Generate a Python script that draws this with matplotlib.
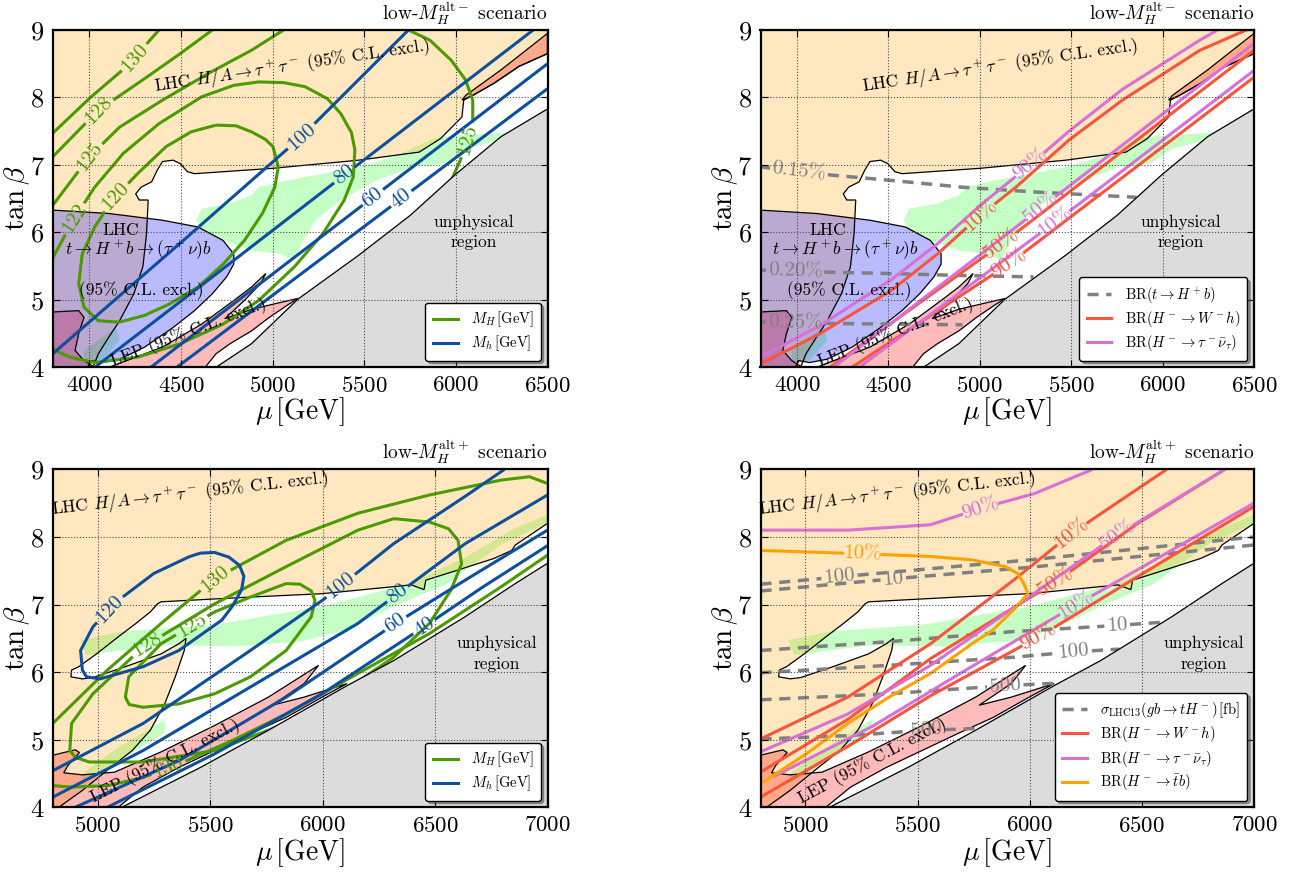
import numpy as np
import matplotlib
matplotlib.use("Agg")
import matplotlib.pyplot as plt
from matplotlib.lines import Line2D

plt.rcParams.update({
    "font.family": "serif",
    "font.serif": ["cmr10"],
    "mathtext.fontset": "cm",
    "axes.unicode_minus": False,
    "axes.formatter.use_mathtext": True,
})

# ------------------------------------------------------------------ data
TOP_XTICKS = [4000, 4500, 5000, 5500, 6000, 6500]
BOT_XTICKS = [5000, 5500, 6000, 6500, 7000]
TB_TICKS = [4, 5, 6, 7, 8, 9]
TOP_XLIM = (3800, 6500)
BOT_XLIM = (4800, 7000)

# ---- low-MH alt- scenario (top row) : excluded regions
m_lhc_mu = [3800, 6500, 6500, 6344, 6208, 6092, 6043, 6033, 5916, 5800, 5469, 5002, 4574, 4535,
            4496, 4457, 4399, 4370, 4340, 4282, 4253, 4272, 4321, 4312, 4292, 4243, 4165, 4107,
            4049, 4020, 3800]
m_lhc_tb = [9.0, 9.0, 8.65, 8.46, 8.21, 8.03, 7.96, 7.71, 7.39, 7.19, 7.07, 6.95, 6.87, 6.90,
            7.02, 7.07, 7.05, 6.92, 6.75, 6.67, 6.57, 6.48, 6.48, 5.98, 5.49, 5.09, 4.69, 4.45,
            4.20, 4.0, 4.0]
m_tth_mu = [3800, 4107, 4399, 4593, 4730, 4788, 4788, 4749, 4671, 4574, 4457, 4302, 4165, 4068,
            4010, 3990, 3800]
m_tth_tb = [6.33, 6.28, 6.18, 6.08, 5.88, 5.68, 5.53, 5.34, 5.09, 4.84, 4.59, 4.30, 4.12, 4.07,
            4.10, 4.0, 4.0]
m_lep1_mu = [3800, 3942, 3971, 3942, 3922, 3971, 4029, 3800]
m_lep1_tb = [4.82, 4.84, 4.74, 4.50, 4.25, 4.10, 4.0, 4.0]
m_lep2_mu = [4107, 4399, 4613, 4788, 4885, 4963, 4934, 4846, 4739, 4885, 5041, 5138, 5080, 4982,
             4885, 4768, 4691, 4632]
m_lep2_tb = [4.0, 4.30, 4.64, 4.99, 5.19, 5.39, 5.24, 4.99, 4.72, 4.86, 4.96, 5.02, 4.92, 4.74,
             4.54, 4.35, 4.20, 4.0]
m_lep3_mu = [6033, 6053, 6247, 6500, 6500, 6344, 6208, 6092]
m_lep3_tb = [7.96, 8.03, 8.41, 8.95, 8.65, 8.46, 8.21, 8.03]
m_unph_mu = [4691, 4885, 5138, 5469, 5750, 5994, 6247, 6500, 6500]
m_unph_tb = [4.0, 4.35, 5.01, 5.66, 6.25, 6.85, 7.42, 7.83, 4.0]
m_fit1_mu = [4584, 4613, 4768, 4885, 4924, 5080, 5469, 5663, 5858, 5916, 6286, 6247, 6053, 5936,
             5761, 5566, 5372, 5235, 5158, 5119, 5041, 4885, 4730, 4613]
m_fit1_tb = [6.18, 6.35, 6.43, 6.55, 6.67, 6.77, 6.97, 7.12, 7.37, 7.42, 7.48, 7.37, 7.24, 7.02,
             6.97, 6.77, 6.48, 6.18, 5.83, 5.58, 5.68, 5.73, 5.88, 6.03]
m_fit2_mu = [3971, 4146, 4165, 4068, 3971]
m_fit2_tb = [4.25, 4.59, 4.40, 4.10, 4.05]

# ---- alt- : MH contours (GeV)
m_MH130_mu = [3800, 4010, 4204, 4380]
m_MH130_tb = [7.47, 8.01, 8.46, 9.0]
m_MH128_mu = [3800, 4049, 4302, 4496, 4671]
m_MH128_tb = [7.12, 7.81, 8.28, 8.65, 9.0]
m_MH125a_mu = [3800, 4000, 4165, 4399, 4652, 4885, 5060]
m_MH125a_tb = [6.40, 7.12, 7.56, 7.96, 8.36, 8.70, 9.0]
m_MH125b_mu = [5741, 5858, 5975, 6053, 6092, 6092, 6063, 6024, 5975]
m_MH125b_tb = [9.0, 8.85, 8.55, 8.26, 7.96, 7.66, 7.37, 7.07, 6.77]
m_MH122_mu = [3800, 3912, 4029, 4185, 4379, 4613, 4788, 4924, 5060, 5177, 5300, 5372, 5430, 5449,
              5440, 5391, 5274, 5119, 4924, 4730, 4496, 4263, 4029, 3893, 3800]
m_MH122_tb = [5.62, 6.18, 6.67, 7.17, 7.61, 8.01, 8.18, 8.23, 8.22, 8.16, 7.98, 7.76, 7.48, 7.22,
              6.82, 6.48, 5.98, 5.49, 4.99, 4.64, 4.35, 4.15, 4.07, 4.15, 4.27]
m_MH120_mu = [4691, 4800, 4885, 4960, 5002, 5031, 5012, 4944, 4846, 4730, 4593, 4438, 4302, 4165,
              4049, 3971, 3942, 3961, 4029, 4126, 4263, 4418, 4555, 4691]
m_MH120_tb = [7.59, 7.58, 7.49, 7.38, 7.27, 6.97, 6.67, 6.28, 5.88, 5.53, 5.19, 4.94, 4.77, 4.67,
              4.69, 4.89, 5.24, 5.68, 6.08, 6.48, 6.87, 7.27, 7.49, 7.59]
# ---- alt- : Mh contours (GeV)
m_Mh100_mu = [3800, 4500, 5158, 5741]
m_Mh100_tb = [4.20, 5.85, 7.42, 9.0]
m_Mh80_mu = [4030, 4700, 5391, 6422]
m_Mh80_tb = [4.0, 5.40, 6.85, 9.0]
m_Mh60_mu = [4335, 5547, 6500]
m_Mh60_tb = [4.0, 6.52, 8.50]
m_Mh40_mu = [4477, 5702, 6500]
m_Mh40_tb = [4.0, 6.50, 8.13]
# ---- alt- : branching ratios
m_BRt015_mu = [3800, 4185, 4516, 4905, 5294, 5858]
m_BRt015_tb = [6.97, 6.85, 6.77, 6.67, 6.60, 6.52]
m_BRt020_mu = [3800, 4165, 4516, 4905, 5294]
m_BRt020_tb = [5.44, 5.41, 5.39, 5.36, 5.34]
m_BRt025_mu = [3800, 4165, 4905]
m_BRt025_tb = [4.67, 4.65, 4.63]
m_Wh10_mu = [3800, 4126, 4516, 4768, 5002, 5197, 5488, 5780, 6204, 6500]
m_Wh10_tb = [4.05, 4.50, 5.14, 5.68, 6.25, 6.67, 7.37, 7.96, 8.70, 9.05]
m_Wh50_mu = [4180, 5119, 6500]
m_Wh50_tb = [4.0, 5.83, 8.70]
m_Wh90_mu = [4300, 5158, 6500]
m_Wh90_tb = [4.0, 5.53, 8.30]
m_tau90_mu = [3800, 4126, 4516, 4768, 5002, 5274, 5488, 5780, 6204, 6300]
m_tau90_tb = [4.15, 4.62, 5.30, 5.83, 6.40, 7.00, 7.50, 8.12, 8.85, 9.0]
m_tau50_mu = [4200, 5333, 6500]
m_tau50_tb = [4.0, 6.36, 8.80]
m_tau10_mu = [4340, 5411, 6500]
m_tau10_tb = [4.0, 6.15, 8.40]

# ---- low-MH alt+ scenario (bottom row) : excluded regions
p_lhc_mu = [4800, 7000, 7000, 6857, 6841, 6761, 6602, 6459, 6451, 6395, 5998, 5679, 5282, 5266,
            5234, 5170, 5091, 4995, 4916, 4884, 4881, 4932, 4980, 5123, 5282, 5361, 5393, 5385,
            5345, 5298, 5234, 5154, 5043, 4932, 4827, 4800]
p_lhc_tb = [9.0, 9.0, 8.20, 7.88, 7.80, 7.68, 7.51, 7.36, 7.22, 7.29, 7.16, 7.11, 7.04, 7.01,
            6.89, 6.72, 6.52, 6.27, 6.08, 6.03, 5.93, 5.90, 5.92, 6.08, 6.27, 6.42, 6.50, 6.32,
            5.93, 5.53, 5.14, 4.84, 4.55, 4.25, 4.0, 4.0]
p_lep_mu = [4800, 4800, 4900, 4919, 4868, 4849, 4932, 5075, 5282, 5520, 5759, 5982, 5918, 5775,
            5918, 6109, 5998, 5838, 5679, 5520, 5361, 5202, 5091]
p_lep_tb = [4.0, 4.77, 4.85, 4.81, 4.62, 4.51, 4.48, 4.52, 4.82, 5.21, 5.63, 6.10, 5.83, 5.51,
            5.63, 5.83, 5.63, 5.33, 5.09, 4.84, 4.59, 4.30, 4.0]
p_unph_mu = [5107, 5457, 5759, 6109, 6316, 6634, 6857, 7000, 7000]
p_unph_tb = [4.0, 4.59, 5.14, 5.80, 6.17, 6.82, 7.31, 7.61, 4.0]
p_fit1_mu = [4924, 5107, 5520, 5998, 6395, 6634, 6857, 7000, 7000, 6800, 6550, 6300, 6100, 5900,
             5600, 5300, 5100, 4950]
p_fit1_tb = [6.47, 6.60, 6.70, 6.97, 7.32, 7.70, 8.13, 8.33, 8.20, 7.90, 7.30, 6.95, 6.62, 6.45,
             6.38, 6.40, 6.32, 6.25]
p_fit2_mu = [4932, 5075, 5298, 5298, 5202, 5043, 4932]
p_fit2_tb = [4.50, 4.85, 5.30, 5.10, 4.90, 4.60, 4.35]

# ---- alt+ : MH contours
p_MH130a_mu = [4800, 5043, 5282, 5520, 5838, 6157, 6475, 6793, 6920, 7000]
p_MH130a_tb = [5.24, 6.03, 6.72, 7.38, 7.95, 8.35, 8.62, 8.84, 8.89, 8.79]
p_MH130b_mu = [7000, 6793, 6475, 6157, 5838, 5600, 5361, 5202, 5043, 4884, 4800]
p_MH130b_tb = [7.73, 7.26, 6.57, 5.98, 5.38, 4.99, 4.64, 4.44, 4.32, 4.30, 4.32]
p_MH128_mu = [6316, 6475, 6560, 6602, 6618, 6570, 6475, 6316, 6077, 5838, 5520, 5202, 4963, 4900,
              4876, 4884, 4979, 5202, 5520, 5838, 6157, 6316]
p_MH128_tb = [8.27, 8.22, 8.12, 7.95, 7.60, 7.21, 6.72, 6.22, 5.68, 5.24, 4.84, 4.67, 4.67, 4.74,
              4.84, 5.24, 5.68, 6.37, 7.01, 7.56, 8.10, 8.27]
p_MH125_mu = [5838, 5900, 5950, 5966, 5950, 5838, 5679, 5520, 5361, 5202, 5140, 5123, 5138, 5282,
              5520, 5679, 5838]
p_MH125_tb = [7.31, 7.30, 7.20, 7.06, 6.82, 6.32, 5.93, 5.68, 5.53, 5.48, 5.52, 5.63, 5.93, 6.42,
              6.89, 7.11, 7.31]
# ---- alt+ : Mh contours
p_Mh120_mu = [5409, 5457, 5520, 5584, 5630, 5650, 5640, 5600, 5552, 5361, 5202, 5011, 4950, 4932,
              4924, 4979, 5091, 5250, 5409]
p_Mh120_tb = [7.71, 7.76, 7.77, 7.70, 7.58, 7.42, 7.22, 6.98, 6.77, 6.32, 6.08, 5.90, 5.93, 6.03,
              6.32, 6.67, 7.06, 7.46, 7.71]
p_Mh100_mu = [4800, 5202, 5679, 5998, 6316, 6634, 6809]
p_Mh100_tb = [4.54, 5.24, 6.32, 7.06, 7.90, 8.60, 9.0]
p_Mh80_mu = [4800, 5202, 5679, 6157, 6634, 7000]
p_Mh80_tb = [4.15, 4.84, 5.78, 6.72, 7.90, 8.62]
p_Mh60_mu = [4900, 5361, 5838, 6324, 6634, 7000]
p_Mh60_tb = [4.0, 4.69, 5.63, 6.72, 7.36, 8.10]
p_Mh40_mu = [5043, 5520, 5998, 6451, 6713, 7000]
p_Mh40_tb = [4.0, 4.79, 5.68, 6.67, 7.26, 7.87]
# ---- alt+ : cross sections (fb) and branching ratios
p_sig100a_mu = [4800, 5152, 6000, 7000]
p_sig100a_tb = [7.30, 7.41, 7.66, 8.00]
p_sig10a_mu = [4800, 5392, 6000, 7000]
p_sig10a_tb = [7.20, 7.38, 7.55, 7.88]
p_sig10b_mu = [4800, 5373, 5928, 6390, 6600]
p_sig10b_tb = [6.32, 6.45, 6.60, 6.69, 6.74]
p_sig100b_mu = [4800, 5373, 5928, 6196, 6400]
p_sig100b_tb = [5.99, 6.10, 6.22, 6.30, 6.34]
p_sig500a_mu = [4800, 5373, 5891, 6150]
p_sig500a_tb = [5.59, 5.68, 5.80, 5.84]
p_sig500b_mu = [4800, 5189, 5540, 5800]
p_sig500b_tb = [5.01, 5.06, 5.14, 5.17]
p_Wh10_mu = [4800, 5189, 5558, 5928, 6186, 6611]
p_Wh10_tb = [5.01, 5.63, 6.42, 7.36, 8.05, 9.0]
p_Wh50_mu = [4800, 5189, 5558, 6113, 6482, 6870]
p_Wh50_tb = [4.52, 5.30, 6.20, 7.33, 8.20, 9.0]
p_Wh90_mu = [4800, 5189, 5558, 6039, 6500, 7000]
p_Wh90_tb = [4.15, 4.90, 5.65, 6.52, 7.45, 8.45]
p_tau90_mu = [4800, 5189, 5558, 5780, 6020, 6260, 6280]
p_tau90_tb = [8.10, 8.10, 8.18, 8.42, 8.64, 8.97, 9.0]
p_tau50_mu = [4800, 5189, 5558, 5928, 6390, 6870]
p_tau50_tb = [4.82, 5.38, 6.10, 6.95, 8.03, 9.0]
p_tau10_mu = [4856, 5300, 5700, 6205, 7000]
p_tau10_tb = [4.45, 5.20, 6.00, 6.99, 8.50]
p_tb10_mu = [4800, 5253, 5558, 5743, 5891, 5946, 5974, 5992, 5928, 5835, 5743, 5558, 5373, 5189,
             5004, 4800]
p_tb10_tb = [7.80, 7.75, 7.71, 7.66, 7.56, 7.46, 7.31, 7.16, 6.92, 6.62, 6.42, 5.98, 5.63, 5.24,
             4.79, 4.35]

# ------------------------------------------------------------------ style
C_LHC = "orange"
C_FIT = (0.1, 1.0, 0.1)
C_LEP = "red"
C_TTH = "blue"
C_UNPH = "#dcdcdc"
C_MH = "#4b9a00"
C_Mh = "#0b4f9e"
C_WH = "#fa553c"
C_TAU = "#da6fd8"
C_TB = "#ffa200"
C_DASH = "#808080"
FS_LAB = 15
FS_REG = 12.5

W, H = 1292, 873
fig = plt.figure(figsize=(W / 100, H / 100), dpi=100)


def make_ax(x0, y0, x1, y1):
    return fig.add_axes([x0 / W, 1 - y1 / H, (x1 - x0) / W, (y1 - y0) / H])


def setup(ax, xlim, xticks, title):
    ax.set_xlim(*xlim)
    ax.set_ylim(4, 9)
    ax.set_xticks(xticks)
    ax.set_yticks(TB_TICKS)
    ax.tick_params(direction="in", top=True, right=True, length=5, width=0.8, pad=6)
    ax.tick_params(axis="x", labelsize=16.5)
    ax.tick_params(axis="y", labelsize=19)
    ax.grid(True, ls=":", color="0.3", lw=0.8)
    ax.set_axisbelow(False)
    ax.xaxis.set_zorder(4.5)
    ax.yaxis.set_zorder(4.5)
    for sp in ax.spines.values():
        sp.set_linewidth(1.6)
        sp.set_zorder(7)
    ax.set_xlabel(r"$\mu\,[\mathrm{GeV}]$", fontsize=20)
    ax.set_ylabel(r"$\tan\beta$", fontsize=21)
    ax.xaxis.set_label_coords(0.5, -0.084)
    ax.yaxis.set_label_coords(-0.042, 0.5)
    ax.text(1.0, 1.01, title, transform=ax.transAxes, ha="right", va="bottom", fontsize=14)


def region(ax, mu, tb, color, alpha, z, edge=True):
    ax.fill(mu, tb, facecolor=color, alpha=alpha, edgecolor="none", zorder=z)
    if edge:
        ax.fill(mu, tb, facecolor="none", edgecolor="k", lw=0.9, zorder=2.2)


def curve(ax, mu, tb, color, labels=(), lw=2.2, ls="-", fs=FS_LAB, z=3):
    pts = ax.transData.transform(np.column_stack([mu, tb]).astype(float))
    d = np.diff(pts, axis=0)
    seg = np.hypot(d[:, 0], d[:, 1])
    s = np.concatenate([[0.0], np.cumsum(seg)])
    gaps = []
    for text, lm, lt in labels:
        p = ax.transData.transform((lm, lt))
        best = None
        for k in range(len(seg)):
            v = d[k]
            t = np.clip(np.dot(p - pts[k], v) / max(np.dot(v, v), 1e-9), 0, 1)
            q = pts[k] + t * v
            dist = np.hypot(*(p - q))
            if best is None or dist < best[0]:
                best = (dist, k, t, q)
        _, k, t, q = best
        sl = s[k] + t * seg[k]
        ang = np.degrees(np.arctan2(d[k, 1], d[k, 0]))
        if ang > 90:
            ang -= 180
        elif ang < -90:
            ang += 180
        half = 0.5 * len(text) * fs * 0.52 * fig.dpi / 72 + 2
        gaps.append((sl - half, sl + half))
        xy = ax.transData.inverted().transform(q)
        ax.text(xy[0], xy[1], text, color=color, fontsize=fs, rotation=ang,
                rotation_mode="anchor", ha="center", va="center", zorder=z + 0.1)

    def at(v):
        return np.array([np.interp(v, s, pts[:, 0]), np.interp(v, s, pts[:, 1])])

    keep = [(0.0, s[-1])]
    for a, b in sorted(gaps):
        new = []
        for lo, hi in keep:
            if b <= lo or a >= hi:
                new.append((lo, hi))
                continue
            if a > lo:
                new.append((lo, a))
            if b < hi:
                new.append((b, hi))
        keep = new
    out = []
    for lo, hi in keep:
        inner = [pts[i] for i in range(len(s)) if lo < s[i] < hi]
        out += [at(lo)] + inner + [at(hi), np.array([np.nan, np.nan])]
    out = np.array(out)
    data = ax.transData.inverted().transform(out)
    kw = dict(color=color, lw=lw, zorder=z, solid_capstyle="butt", solid_joinstyle="round")
    if ls == "--":
        kw["dashes"] = (3.2, 2.2)
    ax.plot(data[:, 0], data[:, 1], **kw)


def regions_top(ax):
    region(ax, m_fit1_mu, m_fit1_tb, C_FIT, 0.25, 1.0, edge=False)
    region(ax, m_fit2_mu, m_fit2_tb, C_FIT, 0.25, 1.0, edge=False)
    region(ax, m_lhc_mu, m_lhc_tb, C_LHC, 0.25, 1.1)
    region(ax, m_lep1_mu, m_lep1_tb, C_LEP, 0.27, 1.2)
    region(ax, m_lep2_mu, m_lep2_tb, C_LEP, 0.27, 1.2)
    region(ax, m_lep3_mu, m_lep3_tb, C_LEP, 0.27, 1.2)
    region(ax, m_tth_mu, m_tth_tb, C_TTH, 0.27, 1.3)
    ax.fill(m_unph_mu, m_unph_tb, facecolor=C_UNPH, edgecolor="k", lw=0.9, zorder=4)
    ax.text(5110, 8.45, r"LHC $H/A\to\tau^+\tau^-$ (95% C.L. excl.)", rotation=8.5,
            ha="center", va="center", fontsize=FS_REG, zorder=5)
    ax.text(4170, 6.03, "LHC", ha="center", va="center", fontsize=FS_REG, zorder=5)
    ax.text(4265, 5.73, r"$t\to H^+b\to(\tau^+\nu)b$", ha="center", va="center",
            fontsize=FS_REG, zorder=5)
    ax.text(4285, 5.14, "(95% C.L. excl.)", ha="center", va="center", fontsize=FS_REG, zorder=5)
    ax.text(4540, 4.52, "LEP (95% C.L. excl.)", rotation=21, ha="center", va="center",
            fontsize=FS_REG, zorder=5)
    ax.text(6100, 6.0, "unphysical\nregion", ha="center", va="center", fontsize=FS_REG,
            linespacing=1.4, zorder=5)


def regions_bot(ax, lep_rot):
    region(ax, p_fit1_mu, p_fit1_tb, C_FIT, 0.25, 1.0, edge=False)
    region(ax, p_fit2_mu, p_fit2_tb, C_FIT, 0.25, 1.0, edge=False)
    region(ax, p_lhc_mu, p_lhc_tb, C_LHC, 0.25, 1.1)
    region(ax, p_lep_mu, p_lep_tb, C_LEP, 0.27, 1.2)
    ax.fill(p_unph_mu, p_unph_tb, facecolor=C_UNPH, edgecolor="k", lw=0.9, zorder=4)
    ax.text(5410, 8.63, r"LHC $H/A\to\tau^+\tau^-$ (95% C.L. excl.)", rotation=6.5,
            ha="center", va="center", fontsize=FS_REG, zorder=5)
    ax.text(5300, 4.68, "LEP (95% C.L. excl.)", rotation=lep_rot, ha="center", va="center",
            fontsize=FS_REG, zorder=5)
    ax.text(6775, 6.27, "unphysical\nregion", ha="center", va="center", fontsize=FS_REG,
            linespacing=1.4, zorder=5)


def legend(ax, handles):
    leg = ax.legend(handles=handles, loc="lower right", fontsize=10.5, fancybox=True,
                    shadow=True, framealpha=1, edgecolor="k", borderaxespad=0.45,
                    handlelength=1.7, handletextpad=0.9, labelspacing=0.3, borderpad=0.5)
    leg.set_zorder(8)
    leg.get_frame().set_linewidth(1.0)


# ------------------------------------------------------------------ panel 1
ax1 = make_ax(52.7, 30.0, 547.5, 367.3)
setup(ax1, TOP_XLIM, TOP_XTICKS, r"low-$M_H^{\rm alt-}$ scenario")
regions_top(ax1)
curve(ax1, m_MH130_mu, m_MH130_tb, C_MH, [("130", 4243, 8.6)])
curve(ax1, m_MH128_mu, m_MH128_tb, C_MH, [("128", 4049, 7.81)])
curve(ax1, m_MH125a_mu, m_MH125a_tb, C_MH, [("125", 4000, 7.12)])
curve(ax1, m_MH125b_mu, m_MH125b_tb, C_MH, [("125", 6063, 7.37)])
curve(ax1, m_MH122_mu, m_MH122_tb, C_MH, [("122", 3932, 6.18)])
curve(ax1, m_MH120_mu, m_MH120_tb, C_MH, [("120", 4146, 6.52)])
curve(ax1, m_Mh100_mu, m_Mh100_tb, C_Mh, [("100", 5158, 7.42)])
curve(ax1, m_Mh80_mu, m_Mh80_tb, C_Mh, [("80", 5391, 6.85)])
curve(ax1, m_Mh60_mu, m_Mh60_tb, C_Mh, [("60", 5547, 6.52)])
curve(ax1, m_Mh40_mu, m_Mh40_tb, C_Mh, [("40", 5702, 6.50)])
legend(ax1, [Line2D([], [], color=C_MH, lw=2.2, label=r"$M_H\,[\mathrm{GeV}]$"),
             Line2D([], [], color=C_Mh, lw=2.2, label=r"$M_h\,[\mathrm{GeV}]$")])

# ------------------------------------------------------------------ panel 2
ax2 = make_ax(760.5, 30.0, 1254.0, 367.3)
setup(ax2, TOP_XLIM, TOP_XTICKS, r"low-$M_H^{\rm alt-}$ scenario")
regions_top(ax2)
curve(ax2, m_BRt015_mu, m_BRt015_tb, C_DASH, [("0.15%", 4010, 6.9)], ls="--", lw=2.5)
curve(ax2, m_BRt020_mu, m_BRt020_tb, C_DASH, [("0.20%", 3990, 5.44)], ls="--", lw=2.5)
curve(ax2, m_BRt025_mu, m_BRt025_tb, C_DASH, [("0.25%", 3990, 4.66)], ls="--", lw=2.5)
curve(ax2, m_Wh10_mu, m_Wh10_tb, C_WH, [("10%", 5002, 6.25)])
curve(ax2, m_Wh50_mu, m_Wh50_tb, C_WH, [("50%", 5119, 5.83)])
curve(ax2, m_Wh90_mu, m_Wh90_tb, C_WH, [("90%", 5158, 5.53)])
curve(ax2, m_tau90_mu, m_tau90_tb, C_TAU, [("90%", 5274, 7.0)])
curve(ax2, m_tau50_mu, m_tau50_tb, C_TAU, [("50%", 5333, 6.36)])
curve(ax2, m_tau10_mu, m_tau10_tb, C_TAU, [("10%", 5411, 6.15)])
legend(ax2, [Line2D([], [], color=C_DASH, lw=2.5, dashes=(3.2, 2.2),
                    label=r"$\mathrm{BR}(t\to H^+b)$"),
             Line2D([], [], color=C_WH, lw=2.2, label=r"$\mathrm{BR}(H^-\to W^-h)$"),
             Line2D([], [], color=C_TAU, lw=2.2,
                    label=r"$\mathrm{BR}(H^-\to \tau^-\bar\nu_\tau)$")])

# ------------------------------------------------------------------ panel 3
ax3 = make_ax(52.7, 469.3, 547.5, 807.3)
setup(ax3, BOT_XLIM, BOT_XTICKS, r"low-$M_H^{\rm alt+}$ scenario")
regions_bot(ax3, 27)
curve(ax3, p_MH130a_mu, p_MH130a_tb, C_MH, [("130", 5520, 7.38)])
curve(ax3, p_MH130b_mu, p_MH130b_tb, C_MH, [("130", 5313, 4.6)])
curve(ax3, p_MH128_mu, p_MH128_tb, C_MH, [("128", 5218, 6.4)])
curve(ax3, p_MH125_mu, p_MH125_tb, C_MH, [("125", 5409, 6.74)])
curve(ax3, p_Mh120_mu, p_Mh120_tb, C_Mh, [("120", 5059, 6.91)])
curve(ax3, p_Mh100_mu, p_Mh100_tb, C_Mh, [("100", 6077, 7.29)])
curve(ax3, p_Mh80_mu, p_Mh80_tb, C_Mh, [("80", 6332, 7.16)])
curve(ax3, p_Mh60_mu, p_Mh60_tb, C_Mh, [("60", 6324, 6.72)])
curve(ax3, p_Mh40_mu, p_Mh40_tb, C_Mh, [("40", 6451, 6.67)])
legend(ax3, [Line2D([], [], color=C_MH, lw=2.2, label=r"$M_H\,[\mathrm{GeV}]$"),
             Line2D([], [], color=C_Mh, lw=2.2, label=r"$M_h\,[\mathrm{GeV}]$")])

# ------------------------------------------------------------------ panel 4
ax4 = make_ax(760.5, 469.3, 1254.0, 807.3)
setup(ax4, BOT_XLIM, BOT_XTICKS, r"low-$M_H^{\rm alt+}$ scenario")
regions_bot(ax4, 28)
curve(ax4, p_sig100a_mu, p_sig100a_tb, C_DASH, [("100", 5152, 7.41)], ls="--", lw=2.5)
curve(ax4, p_sig10a_mu, p_sig10a_tb, C_DASH, [("10", 5392, 7.38)], ls="--", lw=2.5)
curve(ax4, p_sig10b_mu, p_sig10b_tb, C_DASH, [("10", 6390, 6.69)], ls="--", lw=2.5)
curve(ax4, p_sig100b_mu, p_sig100b_tb, C_DASH, [("100", 6196, 6.30)], ls="--", lw=2.5)
curve(ax4, p_sig500a_mu, p_sig500a_tb, C_DASH, [("500", 5891, 5.80)], ls="--", lw=2.5)
curve(ax4, p_sig500b_mu, p_sig500b_tb, C_DASH, [("500", 5540, 5.14)], ls="--", lw=2.5)
curve(ax4, p_Wh10_mu, p_Wh10_tb, C_WH, [("10%", 6186, 8.05)])
curve(ax4, p_Wh50_mu, p_Wh50_tb, C_WH, [("50%", 6113, 7.33)])
curve(ax4, p_Wh90_mu, p_Wh90_tb, C_WH, [("90%", 6039, 6.52)])
curve(ax4, p_tau90_mu, p_tau90_tb, C_TAU, [("90%", 5780, 8.42)])
curve(ax4, p_tau50_mu, p_tau50_tb, C_TAU, [("50%", 6390, 8.03)])
curve(ax4, p_tau10_mu, p_tau10_tb, C_TAU, [("10%", 6205, 6.99)])
curve(ax4, p_tb10_mu, p_tb10_tb, C_TB, [("10%", 5253, 7.75)])
legend(ax4, [Line2D([], [], color=C_DASH, lw=2.5, dashes=(3.2, 2.2),
                    label=r"$\sigma_{\mathrm{LHC13}}(gb\to tH^-)\,[\mathrm{fb}]$"),
             Line2D([], [], color=C_WH, lw=2.2, label=r"$\mathrm{BR}(H^-\to W^-h)$"),
             Line2D([], [], color=C_TAU, lw=2.2,
                    label=r"$\mathrm{BR}(H^-\to \tau^-\bar\nu_\tau)$"),
             Line2D([], [], color=C_TB, lw=2.2, label=r"$\mathrm{BR}(H^-\to \bar tb)$")])

fig.savefig("out.png", dpi=100)
